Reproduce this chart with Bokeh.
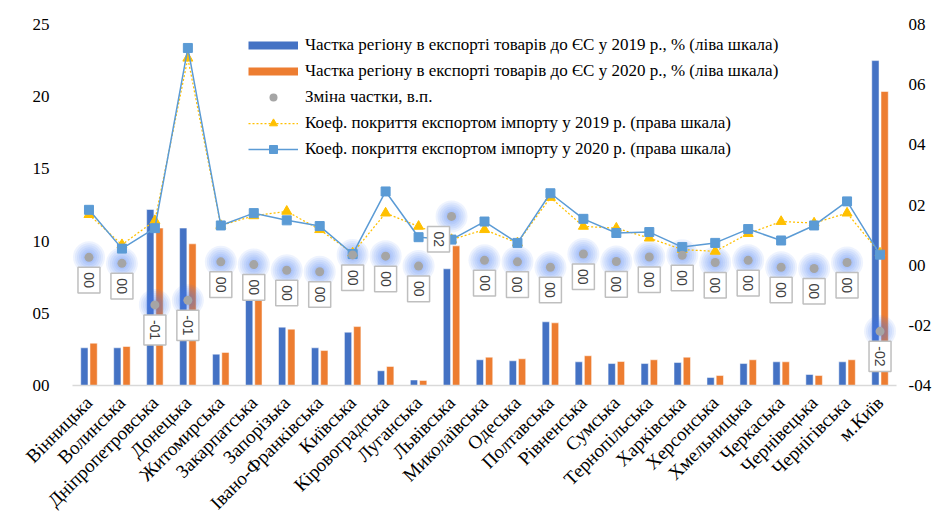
from math import pi
from bokeh.plotting import figure
from bokeh.models import (FactorRange, Range1d, LinearAxis, FixedTicker, Label,
                          Legend, LegendItem, ColumnDataSource)
from bokeh.transform import dodge
from bokeh.embed import file_html
from bokeh.resources import INLINE

regions = ["Вінницька", "Волинська", "Дніпропетровська", "Донецька", "Житомирська",
           "Закарпатська", "Запорізька", "Івано-Франківська", "Київська", "Кіровоградська",
           "Луганська", "Львівська", "Миколаївська", "Одеська", "Полтавська", "Рівненська",
           "Сумська", "Тернопільська", "Харківська", "Херсонська", "Хмельницька",
           "Черкаська", "Чернівецька", "Чернігівська", "м.Київ"]

share_2019 = [2.61, 2.61, 12.19, 10.9, 2.17, 7.5, 4.04, 2.61, 3.69, 1.02,
              0.38, 8.08, 1.78, 1.71, 4.41, 1.64, 1.52, 1.52, 1.59, 0.55,
              1.52, 1.64, 0.76, 1.64, 22.5]
share_2020 = [2.93, 2.70, 10.9, 9.81, 2.29, 7.5, 3.90, 2.42, 4.08, 1.32,
              0.35, 9.67, 1.96, 1.85, 4.34, 2.06, 1.66, 1.78, 1.96, 0.69,
              1.78, 1.64, 0.69, 1.78, 20.36]
share_change = [0.26, 0.06, -1.32, -1.17, 0.11, 0.02, -0.17, -0.22, 0.34, 0.30,
                -0.03, 1.62, 0.16, 0.11, -0.07, 0.37, 0.12, 0.27, 0.33, 0.09,
                0.16, -0.07, -0.11, 0.09, -2.2]
cover_2019 = [1.68, 0.68, 1.48, 6.88, 1.32, 1.64, 1.79, 1.18, 0.40, 1.73,
              1.29, 0.85, 1.18, 0.74, 2.25, 1.29, 1.23, 0.90, 0.52, 0.46,
              1.05, 1.45, 1.40, 1.73, 0.40]
cover_2020 = [1.84, 0.55, 1.23, 7.22, 1.32, 1.73, 1.49, 1.30, 0.37, 2.45,
              0.93, 0.85, 1.45, 0.74, 2.39, 1.54, 1.07, 1.10, 0.60, 0.74,
              1.20, 0.82, 1.32, 2.12, 0.35]

left_ticks = [0, 5, 10, 15, 20, 25]
left_tick_labels = ["00", "05", "10", "15", "20", "25"]
right_ticks = [-4, -2, 0, 2, 4, 6, 8]
right_tick_labels = ["-04", "-02", "00", "02", "04", "06", "08"]

series_names = [
    "Частка регіону в експорті товарів до ЄС у 2019 р., % (ліва шкала)",
    "Частка регіону в експорті товарів до ЄС у 2020 р., % (ліва шкала)",
    "Зміна частки, в.п.",
    "Коеф. покриття експортом імпорту у 2019 р. (права шкала)",
    "Коеф. покриття експортом імпорту у 2020 р. (права шкала)",
]

BLUE = "#4472c4"
ORANGE = "#ed7d31"
GRAY = "#a5a5a5"
YELLOW = "#ffc000"
LBLUE = "#5b9bd5"
SERIF = "Liberation Serif"


def fmt_change(v):
    r = int(round(v))
    return ("-" if r < 0 else "") + f"{abs(r):02d}"


change_labels = [fmt_change(v) for v in share_change]

src = ColumnDataSource(dict(region=regions, s19=share_2019, s20=share_2020,
                            chg=share_change, c19=cover_2019, c20=cover_2020))

p = figure(width=934, height=524, x_range=FactorRange(*regions), y_range=Range1d(0, 25),
           output_backend="svg", toolbar_location=None,
           min_border_left=72, min_border_right=35, min_border_top=24, min_border_bottom=139)
p.extra_y_ranges = {"right": Range1d(-4, 8),
                    "legend_only": Range1d(-1e6, -1e6 + 1)}
p.xgrid.visible = False
p.ygrid.visible = False
p.outline_line_color = None

xa = p.xaxis[0]
xa.axis_line_color = "#d9d9d9"
xa.axis_line_width = 1.5
xa.major_tick_line_color = None
xa.minor_tick_line_color = None
xa.major_label_orientation = pi / 4
xa.major_label_standoff = 8
xa.major_label_text_font = SERIF
xa.major_label_text_font_size = "19px"
xa.major_label_text_color = "#000000"

left = p.left[0]
left.ticker = FixedTicker(ticks=left_ticks)
left.major_label_overrides = {t: s for t, s in zip(left_ticks, left_tick_labels)}
right = LinearAxis(y_range_name="right", ticker=FixedTicker(ticks=right_ticks))
right.major_label_overrides = {t: s for t, s in zip(right_ticks, right_tick_labels)}
p.add_layout(right, "right")
for ax, st in ((left, 17), (right, 6)):
    ax.axis_line_color = None
    ax.major_tick_line_color = None
    ax.minor_tick_line_color = None
    ax.major_label_text_font = SERIF
    ax.major_label_text_font_size = "17px"
    ax.major_label_text_color = "#000000"
    ax.major_label_standoff = st

r19 = p.vbar(x=dodge("region", -0.14, range=p.x_range), top="s19", width=0.22,
             source=src, fill_color=BLUE, line_color="white", line_width=0.5)
r20 = p.vbar(x=dodge("region", 0.14, range=p.x_range), top="s20", width=0.22,
             source=src, fill_color=ORANGE, line_color="white", line_width=0.5)

# soft glow around change points
for sz in (32, 28, 24, 20, 16, 12):
    p.scatter("region", "chg", source=src, y_range_name="right", size=sz,
              fill_color="#3f7cf4", fill_alpha=0.09, line_color=None)

l19 = p.line("region", "c19", source=src, y_range_name="right", line_color=YELLOW,
             line_width=1.25, line_dash="2 2")
m19 = p.scatter("region", "c19", source=src, y_range_name="right", marker="triangle",
                size=10, fill_color=YELLOW, line_color=YELLOW)
l20 = p.line("region", "c20", source=src, y_range_name="right", line_color=LBLUE,
             line_width=1.5)
m20 = p.scatter("region", "c20", source=src, y_range_name="right", marker="square",
                size=9, fill_color=LBLUE, line_color=LBLUE)
dots = p.scatter("region", "chg", source=src, y_range_name="right", size=9,
                 fill_color=GRAY, line_color=None)

# value labels for change (x in synthetic categorical coordinates: index + 0.5)
for i, (reg, v, t) in enumerate(zip(regions, share_change, change_labels)):
    xo = -13 if reg == "Львівська" else 0
    p.add_layout(Label(x=i + 0.5, y=v, y_range_name="right", text=t, angle=-pi / 2,
                       text_align="left", text_baseline="middle", x_offset=xo, y_offset=-10,
                       text_font="Liberation Sans", text_font_size="14px",
                       text_color="#404040", background_fill_color="white",
                       border_line_color="#bfbfbf", border_line_width=1.5, padding=(5, 6)))

# legend proxies: drawn on a range far away from the visible frame
pb19 = p.line("region", "s19", source=src, y_range_name="legend_only",
              line_color=BLUE, line_width=8)
pb20 = p.line("region", "s20", source=src, y_range_name="legend_only",
              line_color=ORANGE, line_width=8)
pdot = p.scatter("region", "chg", source=src, y_range_name="legend_only", size=8,
                 fill_color=GRAY, line_color=None)
legend = Legend(items=[
    LegendItem(label=series_names[0], renderers=[pb19]),
    LegendItem(label=series_names[1], renderers=[pb20]),
    LegendItem(label=series_names[2], renderers=[pdot]),
    LegendItem(label=series_names[3], renderers=[l19, m19]),
    LegendItem(label=series_names[4], renderers=[l20, m20]),
], location=(176, 226), glyph_width=50, glyph_height=20, label_height=20, spacing=6,
    label_standoff=7, padding=0, margin=0, border_line_color=None,
    background_fill_alpha=0, label_text_font=SERIF, label_text_font_size="17px",
    label_text_color="#000000")
p.add_layout(legend)

open("out.html", "w").write(file_html(p, INLINE))
